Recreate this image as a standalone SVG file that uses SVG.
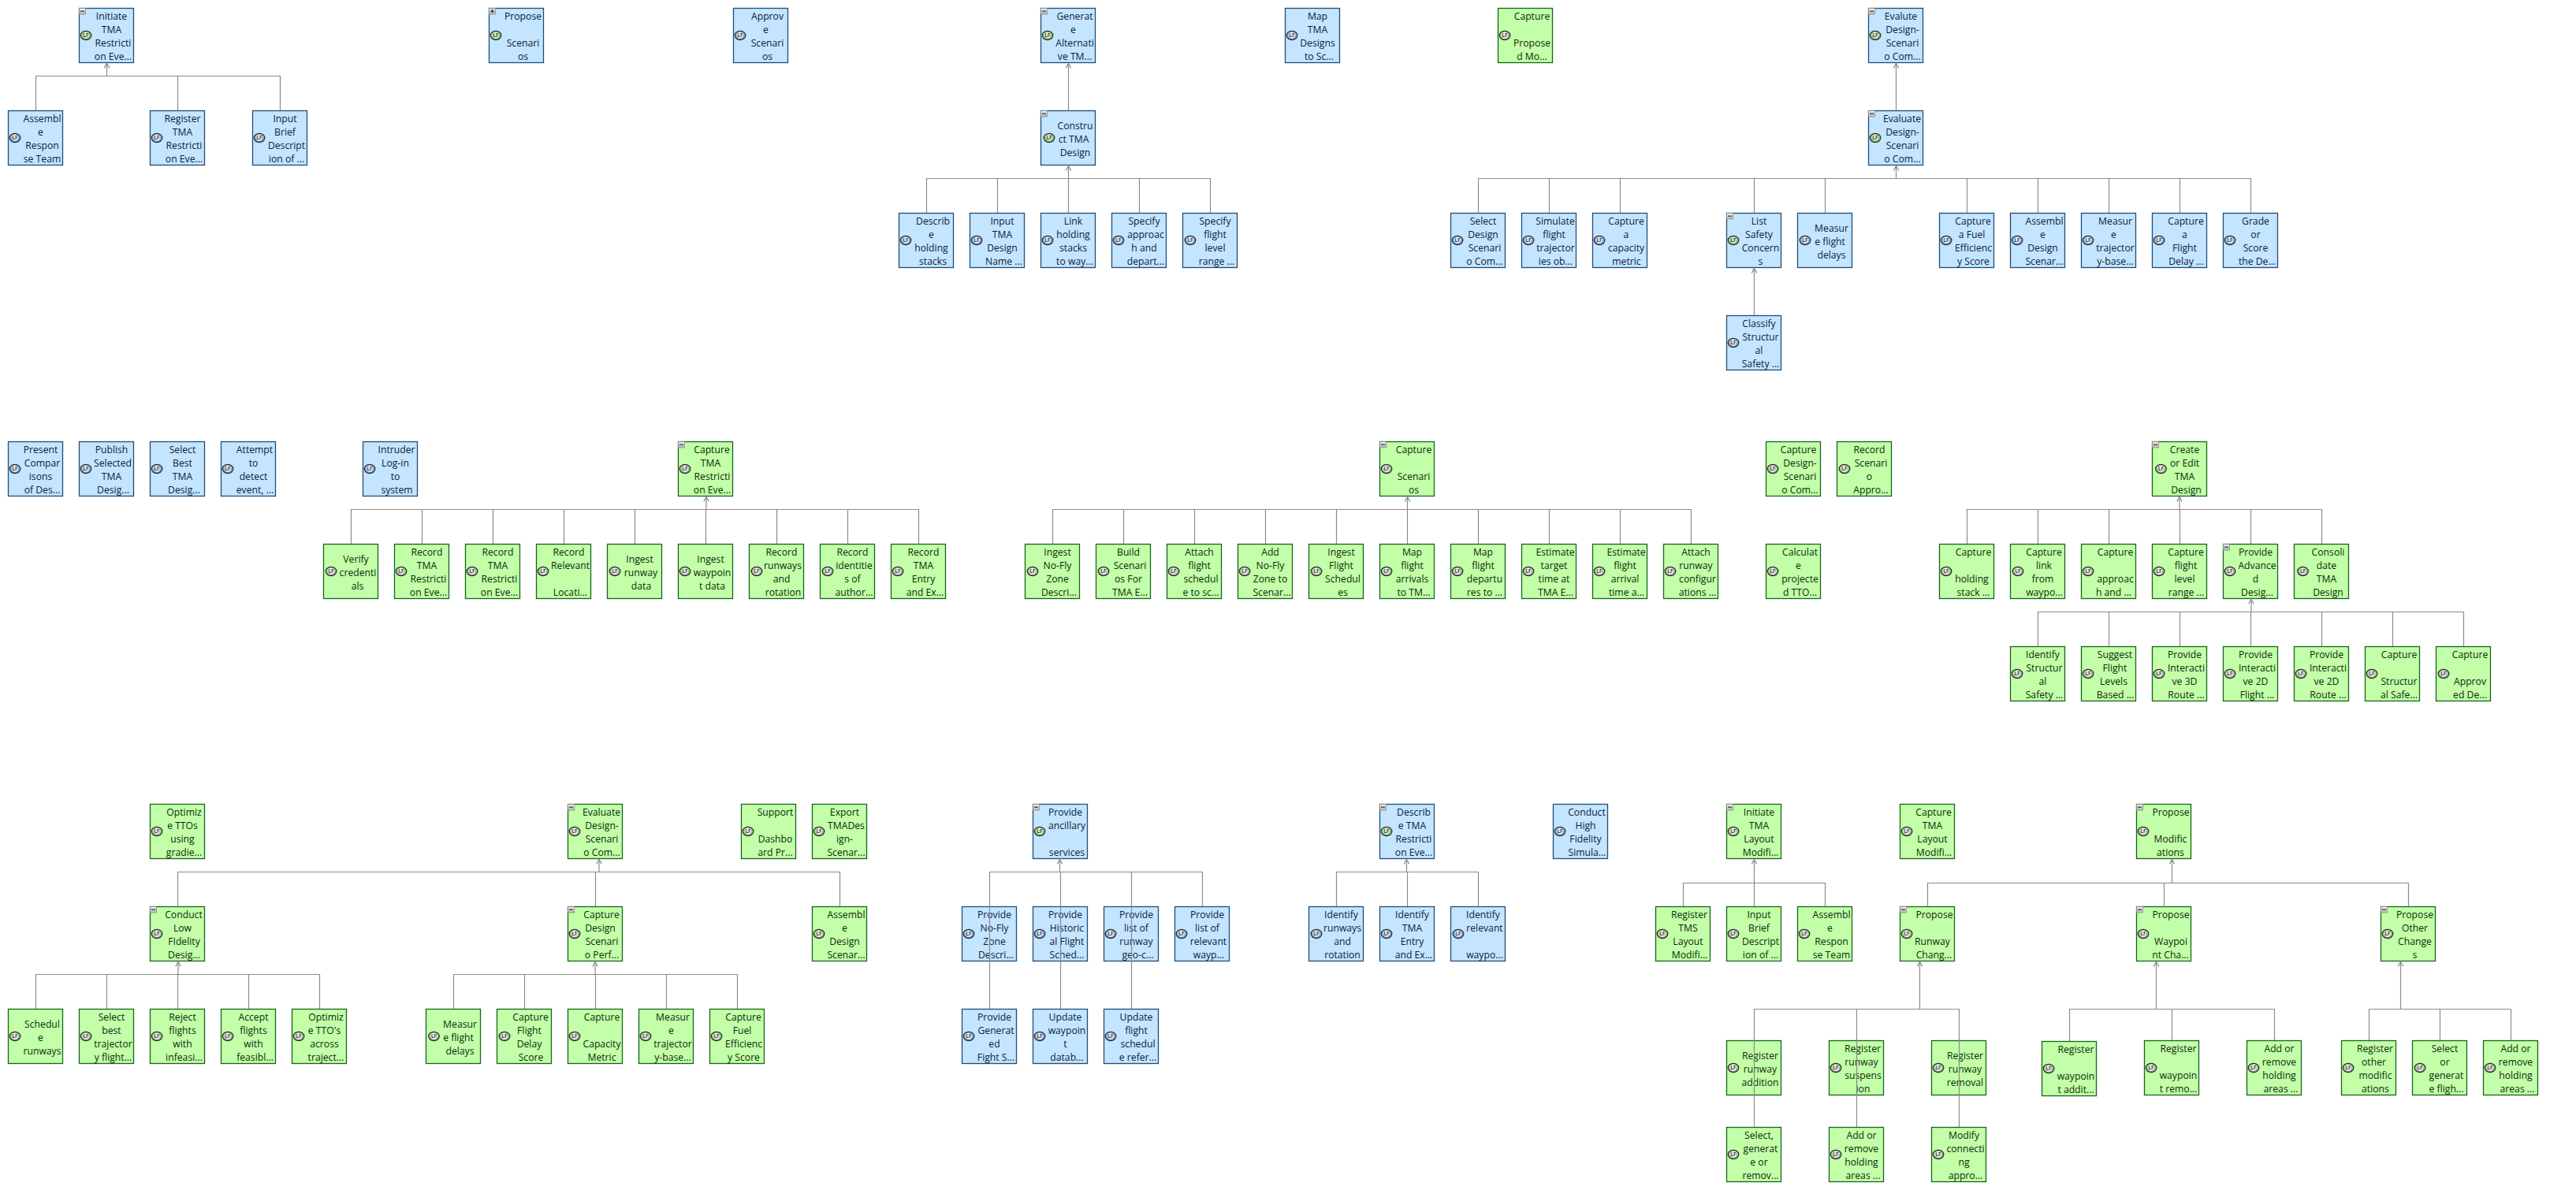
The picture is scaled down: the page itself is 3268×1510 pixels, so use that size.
<svg xmlns="http://www.w3.org/2000/svg" width="3268" height="1510" viewBox="0 0 3268 1510">
<style>
text{font-family:"Open Sans","Noto Sans","Liberation Sans",sans-serif;font-size:12.2px;text-anchor:middle;fill:#0c2238}
.g text{fill:#0b2b0b}
.b>rect{fill:#c4e5ff;stroke:#1f4e79;stroke-width:1.3}
.g>rect{fill:#c3ffa8;stroke:#17661c;stroke-width:1.3}
.c path{fill:none;stroke:#8c8c8c;stroke-width:1.2}
.a{marker-end:url(#arr)}
.lf{font-size:6.5px;font-weight:600;fill:#1c1c1c}
</style>
<defs>
<linearGradient id="gg" x1="0" y1="0" x2="0" y2="1"><stop offset="0" stop-color="#c4e4b0"/><stop offset="1" stop-color="#5f9e4a"/></linearGradient>
<linearGradient id="gb" x1="0" y1="0" x2="0" y2="1"><stop offset="0" stop-color="#c8d6e6"/><stop offset="1" stop-color="#6582a6"/></linearGradient>
<linearGradient id="gc" x1="0" y1="0" x2="0" y2="1"><stop offset="0" stop-color="#d6e2cc"/><stop offset="1" stop-color="#84967c"/></linearGradient>
<linearGradient id="gm" x1="0" y1="0" x2="0" y2="1"><stop offset="0" stop-color="#f4f4f4"/><stop offset="1" stop-color="#b4b4b4"/></linearGradient>
<marker id="arr" markerUnits="userSpaceOnUse" viewBox="0 0 10 10" markerWidth="10" markerHeight="10" refX="9.4" refY="5" orient="auto"><path d="M3,1.8L9,5L3,8.2" fill="none" stroke="#8c8c8c" stroke-width="1.2"/></marker>
<g id="ig"><ellipse rx="6.8" ry="5.6" fill="url(#gg)" stroke="#22381f" stroke-width="1.2"/><circle r="3.9" fill="#f2f8ea" fill-opacity=".75"/><text class="lf" y="2.3">LF</text></g>
<g id="ib"><ellipse rx="6.8" ry="5.6" fill="url(#gb)" stroke="#1c2c40" stroke-width="1.2"/><circle r="3.9" fill="#f4f7fb" fill-opacity=".8"/><text class="lf" y="2.3">LF</text></g>
<g id="ic"><ellipse rx="6.8" ry="5.6" fill="url(#gc)" stroke="#232c22" stroke-width="1.2"/><circle r="3.9" fill="#f6f9f0" fill-opacity=".8"/><text class="lf" y="2.3">LF</text></g>
<g id="mi"><rect x=".5" y=".5" width="8" height="7.5" fill="url(#gm)" stroke="#8a8a8a" stroke-width=".8"/><path d="M2,4.2H7" stroke="#222" stroke-width="1.1"/></g>
<g id="pl"><rect x=".5" y=".5" width="8" height="7.5" fill="url(#gm)" stroke="#8a8a8a" stroke-width=".8"/><path d="M2,4.2H7M4.5,1.8V6.6" stroke="#222" stroke-width="1.1"/></g>
</defs>
<g id="nodes">
<g id="n001" class="b" transform="translate(100 10)"><rect x=".5" y=".5" width="69" height="69"/><use href="#mi"/><use href="#ig" x="9" y="35"/><text><tspan x="41.5" y="15">Initiate</tspan><tspan x="41.5" y="32">TMA</tspan><tspan x="43.5" y="49">Restricti</tspan><tspan x="43.5" y="66">on Eve...</tspan></text></g>
<g id="n002" class="b" transform="translate(10 140)"><rect x=".5" y=".5" width="69" height="69"/><use href="#ib" x="9" y="35"/><text><tspan x="43.5" y="15">Assembl</tspan><tspan x="41.5" y="32">e</tspan><tspan x="43.5" y="49">Respon</tspan><tspan x="43.5" y="66">se Team</tspan></text></g>
<g id="n003" class="b" transform="translate(190 140)"><rect x=".5" y=".5" width="69" height="69"/><use href="#ib" x="9" y="35"/><text><tspan x="41.5" y="15">Register</tspan><tspan x="41.5" y="32">TMA</tspan><tspan x="43.5" y="49">Restricti</tspan><tspan x="43.5" y="66">on Eve...</tspan></text></g>
<g id="n004" class="b" transform="translate(320 140)"><rect x=".5" y=".5" width="69" height="69"/><use href="#ib" x="9" y="35"/><text><tspan x="41.5" y="15">Input</tspan><tspan x="41.5" y="32">Brief</tspan><tspan x="43.5" y="49">Descript</tspan><tspan x="43.5" y="66">ion of ...</tspan></text></g>
<g id="n005" class="b" transform="translate(620 10)"><rect x=".5" y=".5" width="69" height="69"/><use href="#pl"/><use href="#ig" x="9" y="35"/><text><tspan x="43.5" y="15">Propose</tspan><tspan x="43.5" y="49">Scenari</tspan><tspan x="43.5" y="66">os</tspan></text></g>
<g id="n006" class="b" transform="translate(930 10)"><rect x=".5" y=".5" width="69" height="69"/><use href="#ib" x="9" y="35"/><text><tspan x="43.5" y="15">Approv</tspan><tspan x="41.5" y="32">e</tspan><tspan x="43.5" y="49">Scenari</tspan><tspan x="43.5" y="66">os</tspan></text></g>
<g id="n007" class="b" transform="translate(1320 10)"><rect x=".5" y=".5" width="69" height="69"/><use href="#mi"/><use href="#ig" x="9" y="35"/><text><tspan x="43.5" y="15">Generat</tspan><tspan x="41.5" y="32">e</tspan><tspan x="43.5" y="49">Alternati</tspan><tspan x="43.5" y="66">ve TM...</tspan></text></g>
<g id="n008" class="b" transform="translate(1320 140)"><rect x=".5" y=".5" width="69" height="69"/><use href="#mi"/><use href="#ig" x="11" y="35"/><text><tspan x="44" y="23.5">Constru</tspan><tspan x="42" y="40.5">ct TMA</tspan><tspan x="44" y="57.5">Design</tspan></text></g>
<g id="n009" class="b" transform="translate(1140 270)"><rect x=".5" y=".5" width="69" height="69"/><use href="#ib" x="9" y="35"/><text><tspan x="43.5" y="15">Describ</tspan><tspan x="41.5" y="32">e</tspan><tspan x="41.5" y="49">holding</tspan><tspan x="43.5" y="66">stacks</tspan></text></g>
<g id="n010" class="b" transform="translate(1230 270)"><rect x=".5" y=".5" width="69" height="69"/><use href="#ib" x="9" y="35"/><text><tspan x="41.5" y="15">Input</tspan><tspan x="41.5" y="32">TMA</tspan><tspan x="41.5" y="49">Design</tspan><tspan x="43.5" y="66">Name ...</tspan></text></g>
<g id="n011" class="b" transform="translate(1320 270)"><rect x=".5" y=".5" width="69" height="69"/><use href="#ib" x="9" y="35"/><text><tspan x="41.5" y="15">Link</tspan><tspan x="41.5" y="32">holding</tspan><tspan x="41.5" y="49">stacks</tspan><tspan x="43.5" y="66">to way...</tspan></text></g>
<g id="n012" class="b" transform="translate(1410 270)"><rect x=".5" y=".5" width="69" height="69"/><use href="#ib" x="9" y="35"/><text><tspan x="41.5" y="15">Specify</tspan><tspan x="43.5" y="32">approac</tspan><tspan x="41.5" y="49">h and</tspan><tspan x="43.5" y="66">depart...</tspan></text></g>
<g id="n013" class="b" transform="translate(1500 270)"><rect x=".5" y=".5" width="69" height="69"/><use href="#ib" x="10" y="35"/><text><tspan x="41.5" y="15">Specify</tspan><tspan x="41.5" y="32">flight</tspan><tspan x="41.5" y="49">level</tspan><tspan x="43.5" y="66">range ...</tspan></text></g>
<g id="n014" class="b" transform="translate(1630 10)"><rect x=".5" y=".5" width="69" height="69"/><use href="#ib" x="9" y="35"/><text><tspan x="41.5" y="15">Map</tspan><tspan x="41.5" y="32">TMA</tspan><tspan x="41.5" y="49">Designs</tspan><tspan x="43.5" y="66">to Sc...</tspan></text></g>
<g id="n015" class="g" transform="translate(1900 10)"><rect x=".5" y=".5" width="69" height="69"/><use href="#ic" x="9" y="35"/><text><tspan x="43.5" y="15">Capture</tspan><tspan x="43.5" y="49">Propose</tspan><tspan x="43.5" y="66">d Mo...</tspan></text></g>
<g id="n016" class="b" transform="translate(2370 10)"><rect x=".5" y=".5" width="69" height="69"/><use href="#mi"/><use href="#ig" x="9" y="35"/><text><tspan x="41.5" y="15">Evalute</tspan><tspan x="43.5" y="32">Design-</tspan><tspan x="43.5" y="49">Scenari</tspan><tspan x="43.5" y="66">o Com...</tspan></text></g>
<g id="n017" class="b" transform="translate(2370 140)"><rect x=".5" y=".5" width="69" height="69"/><use href="#mi"/><use href="#ig" x="9" y="35"/><text><tspan x="43" y="15">Evaluate</tspan><tspan x="43.5" y="32">Design-</tspan><tspan x="43.5" y="49">Scenari</tspan><tspan x="43.5" y="66">o Com...</tspan></text></g>
<g id="n018" class="b" transform="translate(1840 270)"><rect x=".5" y=".5" width="69" height="69"/><use href="#ib" x="9" y="35"/><text><tspan x="41.5" y="15">Select</tspan><tspan x="41.5" y="32">Design</tspan><tspan x="43.5" y="49">Scenari</tspan><tspan x="43.5" y="66">o Com...</tspan></text></g>
<g id="n019" class="b" transform="translate(1930 270)"><rect x=".5" y=".5" width="69" height="69"/><use href="#ib" x="9" y="35"/><text><tspan x="43" y="15">Simulate</tspan><tspan x="41.5" y="32">flight</tspan><tspan x="43.5" y="49">trajector</tspan><tspan x="43.5" y="66">ies ob...</tspan></text></g>
<g id="n020" class="b" transform="translate(2020 270)"><rect x=".5" y=".5" width="69" height="69"/><use href="#ib" x="9" y="35"/><text><tspan x="43" y="15">Capture</tspan><tspan x="43" y="32">a</tspan><tspan x="43" y="49">capacity</tspan><tspan x="43.5" y="66">metric</tspan></text></g>
<g id="n021" class="b" transform="translate(2190 270)"><rect x=".5" y=".5" width="69" height="69"/><use href="#mi"/><use href="#ig" x="9" y="35"/><text><tspan x="41.5" y="15">List</tspan><tspan x="41.5" y="32">Safety</tspan><tspan x="43.5" y="49">Concern</tspan><tspan x="43.5" y="66">s</tspan></text></g>
<g id="n022" class="b" transform="translate(2280 270)"><rect x=".5" y=".5" width="69" height="69"/><use href="#ib" x="10" y="35"/><text><tspan x="43.5" y="23.5">Measur</tspan><tspan x="41.5" y="40.5">e flight</tspan><tspan x="43.5" y="57.5">delays</tspan></text></g>
<g id="n023" class="b" transform="translate(2460 270)"><rect x=".5" y=".5" width="69" height="69"/><use href="#ib" x="9" y="35"/><text><tspan x="43" y="15">Capture</tspan><tspan x="41.5" y="32">a Fuel</tspan><tspan x="43.5" y="49">Efficienc</tspan><tspan x="43.5" y="66">y Score</tspan></text></g>
<g id="n024" class="b" transform="translate(2550 270)"><rect x=".5" y=".5" width="69" height="69"/><use href="#ib" x="9" y="35"/><text><tspan x="43.5" y="15">Assembl</tspan><tspan x="41.5" y="32">e</tspan><tspan x="41.5" y="49">Design</tspan><tspan x="43.5" y="66">Scenar...</tspan></text></g>
<g id="n025" class="b" transform="translate(2640 270)"><rect x=".5" y=".5" width="69" height="69"/><use href="#ib" x="9" y="35"/><text><tspan x="43.5" y="15">Measur</tspan><tspan x="41.5" y="32">e</tspan><tspan x="43.5" y="49">trajector</tspan><tspan x="43.5" y="66">y-base...</tspan></text></g>
<g id="n026" class="b" transform="translate(2730 270)"><rect x=".5" y=".5" width="69" height="69"/><use href="#ib" x="9" y="35"/><text><tspan x="43" y="15">Capture</tspan><tspan x="41.5" y="32">a</tspan><tspan x="41.5" y="49">Flight</tspan><tspan x="43.5" y="66">Delay ...</tspan></text></g>
<g id="n027" class="b" transform="translate(2820 270)"><rect x=".5" y=".5" width="69" height="69"/><use href="#ib" x="9" y="35"/><text><tspan x="41.5" y="15">Grade</tspan><tspan x="41.5" y="32">or</tspan><tspan x="41.5" y="49">Score</tspan><tspan x="43.5" y="66">the De...</tspan></text></g>
<g id="n028" class="b" transform="translate(2190 400)"><rect x=".5" y=".5" width="69" height="69"/><use href="#ib" x="9" y="35"/><text><tspan x="41.5" y="15">Classify</tspan><tspan x="43.5" y="32">Structur</tspan><tspan x="41.5" y="49">al</tspan><tspan x="43.5" y="66">Safety ...</tspan></text></g>
<g id="n029" class="b" transform="translate(10 560)"><rect x=".5" y=".5" width="69" height="69"/><use href="#ib" x="9" y="35"/><text><tspan x="41.5" y="15">Present</tspan><tspan x="43.5" y="32">Compar</tspan><tspan x="41.5" y="49">isons</tspan><tspan x="43.5" y="66">of Des...</tspan></text></g>
<g id="n030" class="b" transform="translate(100 560)"><rect x=".5" y=".5" width="69" height="69"/><use href="#ib" x="9" y="35"/><text><tspan x="41.5" y="15">Publish</tspan><tspan x="43" y="32">Selected</tspan><tspan x="41.5" y="49">TMA</tspan><tspan x="43.5" y="66">Desig...</tspan></text></g>
<g id="n031" class="b" transform="translate(190 560)"><rect x=".5" y=".5" width="69" height="69"/><use href="#ib" x="9" y="35"/><text><tspan x="41.5" y="15">Select</tspan><tspan x="41.5" y="32">Best</tspan><tspan x="41.5" y="49">TMA</tspan><tspan x="43.5" y="66">Desig...</tspan></text></g>
<g id="n032" class="b" transform="translate(280 560)"><rect x=".5" y=".5" width="69" height="69"/><use href="#ib" x="9" y="35"/><text><tspan x="43" y="15">Attempt</tspan><tspan x="41.5" y="32">to</tspan><tspan x="41.5" y="49">detect</tspan><tspan x="43.5" y="66">event, ...</tspan></text></g>
<g id="n033" class="b" transform="translate(460 560)"><rect x=".5" y=".5" width="69" height="69"/><use href="#ib" x="9" y="35"/><text><tspan x="43" y="15">Intruder</tspan><tspan x="41.5" y="32">Log-in</tspan><tspan x="41.5" y="49">to</tspan><tspan x="43.5" y="66">system</tspan></text></g>
<g id="n034" class="g" transform="translate(860 560)"><rect x=".5" y=".5" width="69" height="69"/><use href="#mi"/><use href="#ic" x="9" y="35"/><text><tspan x="43" y="15">Capture</tspan><tspan x="41.5" y="32">TMA</tspan><tspan x="43.5" y="49">Restricti</tspan><tspan x="43.5" y="66">on Eve...</tspan></text></g>
<g id="n035" class="g" transform="translate(410 690)"><rect x=".5" y=".5" width="69" height="69"/><use href="#ic" x="10" y="35"/><text><tspan x="41.5" y="23.5">Verify</tspan><tspan x="44" y="40.5">credenti</tspan><tspan x="43.5" y="57.5">als</tspan></text></g>
<g id="n036" class="g" transform="translate(500 690)"><rect x=".5" y=".5" width="69" height="69"/><use href="#ic" x="9" y="35"/><text><tspan x="41.5" y="15">Record</tspan><tspan x="41.5" y="32">TMA</tspan><tspan x="43.5" y="49">Restricti</tspan><tspan x="43.5" y="66">on Eve...</tspan></text></g>
<g id="n037" class="g" transform="translate(590 690)"><rect x=".5" y=".5" width="69" height="69"/><use href="#ic" x="9" y="35"/><text><tspan x="41.5" y="15">Record</tspan><tspan x="41.5" y="32">TMA</tspan><tspan x="43.5" y="49">Restricti</tspan><tspan x="43.5" y="66">on Eve...</tspan></text></g>
<g id="n038" class="g" transform="translate(680 690)"><rect x=".5" y=".5" width="69" height="69"/><use href="#ic" x="9" y="35"/><text><tspan x="41.5" y="15">Record</tspan><tspan x="43.5" y="32">Relevant</tspan><tspan x="43.5" y="66">Locati...</tspan></text></g>
<g id="n039" class="g" transform="translate(770 690)"><rect x=".5" y=".5" width="69" height="69"/><use href="#ic" x="10" y="35"/><text><tspan x="41.5" y="23.5">Ingest</tspan><tspan x="43" y="40.5">runway</tspan><tspan x="43.5" y="57.5">data</tspan></text></g>
<g id="n040" class="g" transform="translate(860 690)"><rect x=".5" y=".5" width="69" height="69"/><use href="#ic" x="9" y="35"/><text><tspan x="41.5" y="23.5">Ingest</tspan><tspan x="43.5" y="40.5">waypoin</tspan><tspan x="43.5" y="57.5">t data</tspan></text></g>
<g id="n041" class="g" transform="translate(950 690)"><rect x=".5" y=".5" width="69" height="69"/><use href="#ic" x="10" y="35"/><text><tspan x="41.5" y="15">Record</tspan><tspan x="43" y="32">runways</tspan><tspan x="41.5" y="49">and</tspan><tspan x="43.5" y="66">rotation</tspan></text></g>
<g id="n042" class="g" transform="translate(1040 690)"><rect x=".5" y=".5" width="69" height="69"/><use href="#ic" x="10" y="35"/><text><tspan x="41.5" y="15">Record</tspan><tspan x="43.5" y="32">identitie</tspan><tspan x="41.5" y="49">s of</tspan><tspan x="43.5" y="66">author...</tspan></text></g>
<g id="n043" class="g" transform="translate(1130 690)"><rect x=".5" y=".5" width="69" height="69"/><use href="#ic" x="9" y="35"/><text><tspan x="41.5" y="15">Record</tspan><tspan x="41.5" y="32">TMA</tspan><tspan x="41.5" y="49">Entry</tspan><tspan x="43.5" y="66">and Ex...</tspan></text></g>
<g id="n044" class="g" transform="translate(1750 560)"><rect x=".5" y=".5" width="69" height="69"/><use href="#mi"/><use href="#ic" x="9" y="35"/><text><tspan x="43.5" y="15">Capture</tspan><tspan x="43.5" y="49">Scenari</tspan><tspan x="43.5" y="66">os</tspan></text></g>
<g id="n045" class="g" transform="translate(1300 690)"><rect x=".5" y=".5" width="69" height="69"/><use href="#ic" x="10" y="35"/><text><tspan x="41.5" y="15">Ingest</tspan><tspan x="41.5" y="32">No-Fly</tspan><tspan x="41.5" y="49">Zone</tspan><tspan x="43.5" y="66">Descri...</tspan></text></g>
<g id="n046" class="g" transform="translate(1390 690)"><rect x=".5" y=".5" width="69" height="69"/><use href="#ic" x="10" y="35"/><text><tspan x="41.5" y="15">Build</tspan><tspan x="43.5" y="32">Scenari</tspan><tspan x="41.5" y="49">os For</tspan><tspan x="43.5" y="66">TMA E...</tspan></text></g>
<g id="n047" class="g" transform="translate(1480 690)"><rect x=".5" y=".5" width="69" height="69"/><use href="#ic" x="9" y="35"/><text><tspan x="41.5" y="15">Attach</tspan><tspan x="41.5" y="32">flight</tspan><tspan x="43.5" y="49">schedul</tspan><tspan x="43.5" y="66">e to sc...</tspan></text></g>
<g id="n048" class="g" transform="translate(1570 690)"><rect x=".5" y=".5" width="69" height="69"/><use href="#ic" x="9" y="35"/><text><tspan x="41.5" y="15">Add</tspan><tspan x="41.5" y="32">No-Fly</tspan><tspan x="41.5" y="49">Zone to</tspan><tspan x="43.5" y="66">Scenar...</tspan></text></g>
<g id="n049" class="g" transform="translate(1660 690)"><rect x=".5" y=".5" width="69" height="69"/><use href="#ic" x="10" y="35"/><text><tspan x="41.5" y="15">Ingest</tspan><tspan x="41.5" y="32">Flight</tspan><tspan x="43.5" y="49">Schedul</tspan><tspan x="43.5" y="66">es</tspan></text></g>
<g id="n050" class="g" transform="translate(1750 690)"><rect x=".5" y=".5" width="69" height="69"/><use href="#ic" x="9" y="35"/><text><tspan x="41.5" y="15">Map</tspan><tspan x="41.5" y="32">flight</tspan><tspan x="41.5" y="49">arrivals</tspan><tspan x="43.5" y="66">to TM...</tspan></text></g>
<g id="n051" class="g" transform="translate(1840 690)"><rect x=".5" y=".5" width="69" height="69"/><use href="#ic" x="9" y="35"/><text><tspan x="41.5" y="15">Map</tspan><tspan x="41.5" y="32">flight</tspan><tspan x="43.5" y="49">departu</tspan><tspan x="43.5" y="66">res to ...</tspan></text></g>
<g id="n052" class="g" transform="translate(1930 690)"><rect x=".5" y=".5" width="69" height="69"/><use href="#ic" x="9" y="35"/><text><tspan x="43" y="15">Estimate</tspan><tspan x="41.5" y="32">target</tspan><tspan x="41.5" y="49">time at</tspan><tspan x="43.5" y="66">TMA E...</tspan></text></g>
<g id="n053" class="g" transform="translate(2020 690)"><rect x=".5" y=".5" width="69" height="69"/><use href="#ic" x="9" y="35"/><text><tspan x="43" y="15">Estimate</tspan><tspan x="41.5" y="32">flight</tspan><tspan x="41.5" y="49">arrival</tspan><tspan x="43.5" y="66">time a...</tspan></text></g>
<g id="n054" class="g" transform="translate(2110 690)"><rect x=".5" y=".5" width="69" height="69"/><use href="#ic" x="9" y="35"/><text><tspan x="41.5" y="15">Attach</tspan><tspan x="41.5" y="32">runway</tspan><tspan x="43.5" y="49">configur</tspan><tspan x="43.5" y="66">ations ...</tspan></text></g>
<g id="n055" class="g" transform="translate(2240 560)"><rect x=".5" y=".5" width="69" height="69"/><use href="#ic" x="9" y="35"/><text><tspan x="41.5" y="15">Capture</tspan><tspan x="43.5" y="32">Design-</tspan><tspan x="43.5" y="49">Scenari</tspan><tspan x="43.5" y="66">o Com...</tspan></text></g>
<g id="n056" class="g" transform="translate(2330 560)"><rect x=".5" y=".5" width="69" height="69"/><use href="#ic" x="10" y="35"/><text><tspan x="41.5" y="15">Record</tspan><tspan x="43.5" y="32">Scenari</tspan><tspan x="41.5" y="49">o</tspan><tspan x="43.5" y="66">Appro...</tspan></text></g>
<g id="n057" class="g" transform="translate(2240 690)"><rect x=".5" y=".5" width="69" height="69"/><use href="#ic" x="9" y="35"/><text><tspan x="43.5" y="15">Calculat</tspan><tspan x="41.5" y="32">e</tspan><tspan x="43.5" y="49">projecte</tspan><tspan x="43.5" y="66">d TTO...</tspan></text></g>
<g id="n058" class="g" transform="translate(2730 560)"><rect x=".5" y=".5" width="69" height="69"/><use href="#mi"/><use href="#ic" x="11.5" y="35"/><text><tspan x="41.5" y="15">Create</tspan><tspan x="41.5" y="32">or Edit</tspan><tspan x="41.5" y="49">TMA</tspan><tspan x="43.5" y="66">Design</tspan></text></g>
<g id="n059" class="g" transform="translate(2460 690)"><rect x=".5" y=".5" width="69" height="69"/><use href="#ic" x="9" y="35"/><text><tspan x="43.5" y="15">Capture</tspan><tspan x="41.5" y="49">holding</tspan><tspan x="43.5" y="66">stack ...</tspan></text></g>
<g id="n060" class="g" transform="translate(2550 690)"><rect x=".5" y=".5" width="69" height="69"/><use href="#ic" x="10" y="35"/><text><tspan x="43" y="15">Capture</tspan><tspan x="43" y="32">link</tspan><tspan x="41.5" y="49">from</tspan><tspan x="43.5" y="66">waypo...</tspan></text></g>
<g id="n061" class="g" transform="translate(2640 690)"><rect x=".5" y=".5" width="69" height="69"/><use href="#ic" x="9" y="35"/><text><tspan x="43.5" y="15">Capture</tspan><tspan x="43.5" y="49">approac</tspan><tspan x="41.5" y="66">h and ...</tspan></text></g>
<g id="n062" class="g" transform="translate(2730 690)"><rect x=".5" y=".5" width="69" height="69"/><use href="#ic" x="9" y="35"/><text><tspan x="43" y="15">Capture</tspan><tspan x="43" y="32">flight</tspan><tspan x="41.5" y="49">level</tspan><tspan x="43.5" y="66">range ...</tspan></text></g>
<g id="n063" class="g" transform="translate(2820 690)"><rect x=".5" y=".5" width="69" height="69"/><use href="#mi"/><use href="#ic" x="9" y="35"/><text><tspan x="41.5" y="15">Provide</tspan><tspan x="43.5" y="32">Advance</tspan><tspan x="41.5" y="49">d</tspan><tspan x="43.5" y="66">Desig...</tspan></text></g>
<g id="n064" class="g" transform="translate(2910 690)"><rect x=".5" y=".5" width="69" height="69"/><use href="#ic" x="11.5" y="35"/><text><tspan x="43.5" y="15">Consoli</tspan><tspan x="41.5" y="32">date</tspan><tspan x="41.5" y="49">TMA</tspan><tspan x="43.5" y="66">Design</tspan></text></g>
<g id="n065" class="g" transform="translate(2550 820)"><rect x=".5" y=".5" width="69" height="69"/><use href="#ic" x="9" y="35"/><text><tspan x="41.5" y="15">Identify</tspan><tspan x="43.5" y="32">Structur</tspan><tspan x="41.5" y="49">al</tspan><tspan x="43.5" y="66">Safety ...</tspan></text></g>
<g id="n066" class="g" transform="translate(2640 820)"><rect x=".5" y=".5" width="69" height="69"/><use href="#ic" x="9" y="35"/><text><tspan x="43" y="15">Suggest</tspan><tspan x="43" y="32">Flight</tspan><tspan x="41.5" y="49">Levels</tspan><tspan x="43.5" y="66">Based ...</tspan></text></g>
<g id="n067" class="g" transform="translate(2730 820)"><rect x=".5" y=".5" width="69" height="69"/><use href="#ic" x="9" y="35"/><text><tspan x="41.5" y="15">Provide</tspan><tspan x="43.5" y="32">Interacti</tspan><tspan x="41.5" y="49">ve 3D</tspan><tspan x="43.5" y="66">Route ...</tspan></text></g>
<g id="n068" class="g" transform="translate(2820 820)"><rect x=".5" y=".5" width="69" height="69"/><use href="#ic" x="9" y="35"/><text><tspan x="41.5" y="15">Provide</tspan><tspan x="43.5" y="32">Interacti</tspan><tspan x="41.5" y="49">ve 2D</tspan><tspan x="43.5" y="66">Flight ...</tspan></text></g>
<g id="n069" class="g" transform="translate(2910 820)"><rect x=".5" y=".5" width="69" height="69"/><use href="#ic" x="9" y="35"/><text><tspan x="41.5" y="15">Provide</tspan><tspan x="43.5" y="32">Interacti</tspan><tspan x="41.5" y="49">ve 2D</tspan><tspan x="43.5" y="66">Route ...</tspan></text></g>
<g id="n070" class="g" transform="translate(3000 820)"><rect x=".5" y=".5" width="69" height="69"/><use href="#ic" x="9" y="35"/><text><tspan x="43.5" y="15">Capture</tspan><tspan x="43.5" y="49">Structur</tspan><tspan x="43.5" y="66">al Safe...</tspan></text></g>
<g id="n071" class="g" transform="translate(3090 820)"><rect x=".5" y=".5" width="69" height="69"/><use href="#ic" x="10" y="35"/><text><tspan x="43.5" y="15">Capture</tspan><tspan x="43.5" y="49">Approv</tspan><tspan x="43.5" y="66">ed De...</tspan></text></g>
<g id="n072" class="g" transform="translate(190 1020)"><rect x=".5" y=".5" width="69" height="69"/><use href="#ic" x="9" y="35"/><text><tspan x="43.5" y="15">Optimiz</tspan><tspan x="41.5" y="32">e TTOs</tspan><tspan x="41.5" y="49">using</tspan><tspan x="43.5" y="66">gradie...</tspan></text></g>
<g id="n073" class="g" transform="translate(720 1020)"><rect x=".5" y=".5" width="69" height="69"/><use href="#mi"/><use href="#ic" x="9" y="35"/><text><tspan x="43" y="15">Evaluate</tspan><tspan x="43.5" y="32">Design-</tspan><tspan x="43.5" y="49">Scenari</tspan><tspan x="43.5" y="66">o Com...</tspan></text></g>
<g id="n074" class="g" transform="translate(940 1020)"><rect x=".5" y=".5" width="69" height="69"/><use href="#ic" x="9" y="35"/><text><tspan x="43.5" y="15">Support</tspan><tspan x="43.5" y="49">Dashbo</tspan><tspan x="43.5" y="66">ard Pr...</tspan></text></g>
<g id="n075" class="g" transform="translate(1030 1020)"><rect x=".5" y=".5" width="69" height="69"/><use href="#ic" x="9" y="35"/><text><tspan x="41.5" y="15">Export</tspan><tspan x="43.5" y="32">TMADes</tspan><tspan x="41.5" y="49">ign-</tspan><tspan x="43.5" y="66">Scenar...</tspan></text></g>
<g id="n076" class="g" transform="translate(190 1150)"><rect x=".5" y=".5" width="69" height="69"/><use href="#mi"/><use href="#ic" x="9" y="35"/><text><tspan x="43" y="15">Conduct</tspan><tspan x="41.5" y="32">Low</tspan><tspan x="43.5" y="49">FIdelity</tspan><tspan x="43.5" y="66">Desig...</tspan></text></g>
<g id="n077" class="g" transform="translate(720 1150)"><rect x=".5" y=".5" width="69" height="69"/><use href="#mi"/><use href="#ic" x="9" y="35"/><text><tspan x="43" y="15">Capture</tspan><tspan x="41.5" y="32">Design</tspan><tspan x="43.5" y="49">Scenari</tspan><tspan x="43.5" y="66">o Perf...</tspan></text></g>
<g id="n078" class="g" transform="translate(1030 1150)"><rect x=".5" y=".5" width="69" height="69"/><use href="#ic" x="9" y="35"/><text><tspan x="43.5" y="15">Assembl</tspan><tspan x="41.5" y="32">e</tspan><tspan x="41.5" y="49">Design</tspan><tspan x="43.5" y="66">Scenar...</tspan></text></g>
<g id="n079" class="g" transform="translate(10 1280)"><rect x=".5" y=".5" width="69" height="69"/><use href="#ic" x="9" y="35"/><text><tspan x="43.5" y="23.5">Schedul</tspan><tspan x="41.5" y="40.5">e</tspan><tspan x="43.5" y="57.5">runways</tspan></text></g>
<g id="n080" class="g" transform="translate(100 1280)"><rect x=".5" y=".5" width="69" height="69"/><use href="#ic" x="9" y="35"/><text><tspan x="41.5" y="15">Select</tspan><tspan x="41.5" y="32">best</tspan><tspan x="43.5" y="49">trajector</tspan><tspan x="43.5" y="66">y flight...</tspan></text></g>
<g id="n081" class="g" transform="translate(190 1280)"><rect x=".5" y=".5" width="69" height="69"/><use href="#ic" x="9" y="35"/><text><tspan x="41.5" y="15">Reject</tspan><tspan x="41.5" y="32">flights</tspan><tspan x="41.5" y="49">with</tspan><tspan x="43.5" y="66">infeasi...</tspan></text></g>
<g id="n082" class="g" transform="translate(280 1280)"><rect x=".5" y=".5" width="69" height="69"/><use href="#ic" x="9" y="35"/><text><tspan x="41.5" y="15">Accept</tspan><tspan x="41.5" y="32">flights</tspan><tspan x="41.5" y="49">with</tspan><tspan x="43.5" y="66">feasibl...</tspan></text></g>
<g id="n083" class="g" transform="translate(370 1280)"><rect x=".5" y=".5" width="69" height="69"/><use href="#ic" x="9" y="35"/><text><tspan x="43.5" y="15">Optimiz</tspan><tspan x="41.5" y="32">e TTO's</tspan><tspan x="41.5" y="49">across</tspan><tspan x="43.5" y="66">traject...</tspan></text></g>
<g id="n084" class="g" transform="translate(540 1280)"><rect x=".5" y=".5" width="69" height="69"/><use href="#ic" x="10.5" y="35"/><text><tspan x="43.5" y="23.5">Measur</tspan><tspan x="41.5" y="40.5">e flight</tspan><tspan x="43.5" y="57.5">delays</tspan></text></g>
<g id="n085" class="g" transform="translate(630 1280)"><rect x=".5" y=".5" width="69" height="69"/><use href="#ic" x="10" y="35"/><text><tspan x="43" y="15">Capture</tspan><tspan x="41.5" y="32">Flight</tspan><tspan x="41.5" y="49">Delay</tspan><tspan x="43.5" y="66">Score</tspan></text></g>
<g id="n086" class="g" transform="translate(720 1280)"><rect x=".5" y=".5" width="69" height="69"/><use href="#ic" x="9" y="35"/><text><tspan x="43.5" y="15">Capture</tspan><tspan x="43.5" y="49">Capacity</tspan><tspan x="43.5" y="66">Metric</tspan></text></g>
<g id="n087" class="g" transform="translate(810 1280)"><rect x=".5" y=".5" width="69" height="69"/><use href="#ic" x="9" y="35"/><text><tspan x="43.5" y="15">Measur</tspan><tspan x="41.5" y="32">e</tspan><tspan x="43.5" y="49">trajector</tspan><tspan x="43.5" y="66">y-base...</tspan></text></g>
<g id="n088" class="g" transform="translate(900 1280)"><rect x=".5" y=".5" width="69" height="69"/><use href="#ic" x="9" y="35"/><text><tspan x="43" y="15">Capture</tspan><tspan x="41.5" y="32">Fuel</tspan><tspan x="43.5" y="49">Efficienc</tspan><tspan x="43.5" y="66">y Score</tspan></text></g>
<g id="n089" class="b" transform="translate(1310 1020)"><rect x=".5" y=".5" width="69" height="69"/><use href="#mi"/><use href="#ig" x="9" y="35"/><text><tspan x="41.5" y="15">Provide</tspan><tspan x="43.5" y="32">ancillary</tspan><tspan x="43.5" y="66">services</tspan></text></g>
<g id="n090" class="b" transform="translate(1750 1020)"><rect x=".5" y=".5" width="69" height="69"/><use href="#mi"/><use href="#ig" x="9" y="35"/><text><tspan x="43.5" y="15">Describ</tspan><tspan x="41.5" y="32">e TMA</tspan><tspan x="43.5" y="49">Restricti</tspan><tspan x="43.5" y="66">on Eve...</tspan></text></g>
<g id="n091" class="b" transform="translate(1970 1020)"><rect x=".5" y=".5" width="69" height="69"/><use href="#ib" x="9" y="35"/><text><tspan x="43" y="15">Conduct</tspan><tspan x="41.5" y="32">High</tspan><tspan x="41.5" y="49">Fidelity</tspan><tspan x="43.5" y="66">Simula...</tspan></text></g>
<g id="n092" class="b" transform="translate(1220 1150)"><rect x=".5" y=".5" width="69" height="69"/><use href="#ib" x="9" y="35"/><text><tspan x="41.5" y="15">Provide</tspan><tspan x="41.5" y="32">No-Fly</tspan><tspan x="41.5" y="49">Zone</tspan><tspan x="43.5" y="66">Descri...</tspan></text></g>
<g id="n093" class="b" transform="translate(1310 1150)"><rect x=".5" y=".5" width="69" height="69"/><use href="#ib" x="9" y="35"/><text><tspan x="41.5" y="15">Provide</tspan><tspan x="43.5" y="32">Historic</tspan><tspan x="43.5" y="49">al Flight</tspan><tspan x="43.5" y="66">Sched...</tspan></text></g>
<g id="n094" class="b" transform="translate(1400 1150)"><rect x=".5" y=".5" width="69" height="69"/><use href="#ib" x="9" y="35"/><text><tspan x="41.5" y="15">Provide</tspan><tspan x="41.5" y="32">list of</tspan><tspan x="41.5" y="49">runway</tspan><tspan x="43.5" y="66">geo-c...</tspan></text></g>
<g id="n095" class="b" transform="translate(1490 1150)"><rect x=".5" y=".5" width="69" height="69"/><use href="#ib" x="9" y="35"/><text><tspan x="41.5" y="15">Provide</tspan><tspan x="41.5" y="32">list of</tspan><tspan x="43" y="49">relevant</tspan><tspan x="43.5" y="66">wayp...</tspan></text></g>
<g id="n096" class="b" transform="translate(1660 1150)"><rect x=".5" y=".5" width="69" height="69"/><use href="#ib" x="10" y="35"/><text><tspan x="41.5" y="15">Identify</tspan><tspan x="43" y="32">runways</tspan><tspan x="43" y="49">and</tspan><tspan x="43" y="66">rotation</tspan></text></g>
<g id="n097" class="b" transform="translate(1750 1150)"><rect x=".5" y=".5" width="69" height="69"/><use href="#ib" x="9" y="35"/><text><tspan x="41.5" y="15">Identify</tspan><tspan x="41.5" y="32">TMA</tspan><tspan x="41.5" y="49">Entry</tspan><tspan x="43.5" y="66">and Ex...</tspan></text></g>
<g id="n098" class="b" transform="translate(1840 1150)"><rect x=".5" y=".5" width="69" height="69"/><use href="#ib" x="10" y="35"/><text><tspan x="41.5" y="15">Identify</tspan><tspan x="43.5" y="32">relevant</tspan><tspan x="43.5" y="66">waypo...</tspan></text></g>
<g id="n099" class="b" transform="translate(1220 1280)"><rect x=".5" y=".5" width="69" height="69"/><use href="#ib" x="9" y="35"/><text><tspan x="41.5" y="15">Provide</tspan><tspan x="43.5" y="32">Generat</tspan><tspan x="41.5" y="49">ed</tspan><tspan x="43.5" y="66">Fight S...</tspan></text></g>
<g id="n100" class="b" transform="translate(1310 1280)"><rect x=".5" y=".5" width="69" height="69"/><use href="#ib" x="9" y="35"/><text><tspan x="41.5" y="15">Update</tspan><tspan x="43.5" y="32">waypoin</tspan><tspan x="41.5" y="49">t</tspan><tspan x="43.5" y="66">datab...</tspan></text></g>
<g id="n101" class="b" transform="translate(1400 1280)"><rect x=".5" y=".5" width="69" height="69"/><use href="#ib" x="9" y="35"/><text><tspan x="41.5" y="15">Update</tspan><tspan x="41.5" y="32">flight</tspan><tspan x="43.5" y="49">schedul</tspan><tspan x="43.5" y="66">e refer...</tspan></text></g>
<g id="n102" class="g" transform="translate(2190 1020)"><rect x=".5" y=".5" width="69" height="69"/><use href="#mi"/><use href="#ic" x="9" y="35"/><text><tspan x="41.5" y="15">Initiate</tspan><tspan x="41.5" y="32">TMA</tspan><tspan x="41.5" y="49">Layout</tspan><tspan x="43.5" y="66">Modifi...</tspan></text></g>
<g id="n103" class="g" transform="translate(2410 1020)"><rect x=".5" y=".5" width="69" height="69"/><use href="#ic" x="9" y="35"/><text><tspan x="43" y="15">Capture</tspan><tspan x="41.5" y="32">TMA</tspan><tspan x="41.5" y="49">Layout</tspan><tspan x="43.5" y="66">Modifi...</tspan></text></g>
<g id="n104" class="g" transform="translate(2710 1020)"><rect x=".5" y=".5" width="69" height="69"/><use href="#mi"/><use href="#ic" x="9" y="35"/><text><tspan x="44" y="15">Propose</tspan><tspan x="43.5" y="49">Modific</tspan><tspan x="43.5" y="66">ations</tspan></text></g>
<g id="n105" class="g" transform="translate(2100 1150)"><rect x=".5" y=".5" width="69" height="69"/><use href="#ic" x="9" y="35"/><text><tspan x="43" y="15">Register</tspan><tspan x="41.5" y="32">TMS</tspan><tspan x="41.5" y="49">Layout</tspan><tspan x="43.5" y="66">Modifi...</tspan></text></g>
<g id="n106" class="g" transform="translate(2190 1150)"><rect x=".5" y=".5" width="69" height="69"/><use href="#ic" x="9" y="35"/><text><tspan x="41.5" y="15">Input</tspan><tspan x="41.5" y="32">Brief</tspan><tspan x="43.5" y="49">Descript</tspan><tspan x="43.5" y="66">ion of ...</tspan></text></g>
<g id="n107" class="g" transform="translate(2280 1150)"><rect x=".5" y=".5" width="69" height="69"/><use href="#ic" x="9" y="35"/><text><tspan x="43.5" y="15">Assembl</tspan><tspan x="41.5" y="32">e</tspan><tspan x="43.5" y="49">Respon</tspan><tspan x="43.5" y="66">se Team</tspan></text></g>
<g id="n108" class="g" transform="translate(2410 1150)"><rect x=".5" y=".5" width="69" height="69"/><use href="#mi"/><use href="#ic" x="9" y="35"/><text><tspan x="44" y="15">Propose</tspan><tspan x="41.5" y="49">Runway</tspan><tspan x="43.5" y="66">Chang...</tspan></text></g>
<g id="n109" class="g" transform="translate(2710 1150)"><rect x=".5" y=".5" width="69" height="69"/><use href="#mi"/><use href="#ic" x="9" y="35"/><text><tspan x="44" y="15">Propose</tspan><tspan x="44" y="49">Waypoi</tspan><tspan x="43.5" y="66">nt Cha...</tspan></text></g>
<g id="n110" class="g" transform="translate(3020 1150)"><rect x=".5" y=".5" width="69" height="69"/><use href="#mi"/><use href="#ic" x="9" y="35"/><text><tspan x="43.5" y="15">Propose</tspan><tspan x="43.5" y="32">Other</tspan><tspan x="43.5" y="49">Change</tspan><tspan x="43.5" y="66">s</tspan></text></g>
<g id="n111" class="g" transform="translate(2190 1320)"><rect x=".5" y=".5" width="69" height="69"/><use href="#ic" x="9" y="35"/><text><tspan x="43" y="23.5">Register</tspan><tspan x="43" y="40.5">runway</tspan><tspan x="43" y="57.5">addition</tspan></text></g>
<g id="n112" class="g" transform="translate(2320 1320)"><rect x=".5" y=".5" width="69" height="69"/><use href="#ic" x="9" y="35"/><text><tspan x="43" y="15">Register</tspan><tspan x="41.5" y="32">runway</tspan><tspan x="43.5" y="49">suspens</tspan><tspan x="43.5" y="66">ion</tspan></text></g>
<g id="n113" class="g" transform="translate(2450 1320)"><rect x=".5" y=".5" width="69" height="69"/><use href="#ic" x="9" y="35"/><text><tspan x="43" y="23.5">Register</tspan><tspan x="43" y="40.5">runway</tspan><tspan x="43" y="57.5">removal</tspan></text></g>
<g id="n114" class="g" transform="translate(2590 1321)"><rect x=".5" y=".5" width="69" height="69"/><use href="#ic" x="9" y="35"/><text><tspan x="43.5" y="15">Register</tspan><tspan x="43.5" y="49">waypoin</tspan><tspan x="43.5" y="66">t addit...</tspan></text></g>
<g id="n115" class="g" transform="translate(2720 1320)"><rect x=".5" y=".5" width="69" height="69"/><use href="#ic" x="9" y="35"/><text><tspan x="43.5" y="15">Register</tspan><tspan x="43.5" y="49">waypoin</tspan><tspan x="43.5" y="66">t remo...</tspan></text></g>
<g id="n116" class="g" transform="translate(2850 1320)"><rect x=".5" y=".5" width="69" height="69"/><use href="#ic" x="9" y="35"/><text><tspan x="41.5" y="15">Add or</tspan><tspan x="41.5" y="32">remove</tspan><tspan x="41.5" y="49">holding</tspan><tspan x="43.5" y="66">areas ...</tspan></text></g>
<g id="n117" class="g" transform="translate(2970 1320)"><rect x=".5" y=".5" width="69" height="69"/><use href="#ic" x="9" y="35"/><text><tspan x="43" y="15">Register</tspan><tspan x="41.5" y="32">other</tspan><tspan x="43.5" y="49">modific</tspan><tspan x="43.5" y="66">ations</tspan></text></g>
<g id="n118" class="g" transform="translate(3060 1320)"><rect x=".5" y=".5" width="69" height="69"/><use href="#ic" x="10" y="35"/><text><tspan x="41.5" y="15">Select</tspan><tspan x="41.5" y="32">or</tspan><tspan x="43.5" y="49">generat</tspan><tspan x="43.5" y="66">e fligh...</tspan></text></g>
<g id="n119" class="g" transform="translate(3150 1320)"><rect x=".5" y=".5" width="69" height="69"/><use href="#ic" x="9" y="35"/><text><tspan x="41.5" y="15">Add or</tspan><tspan x="41.5" y="32">remove</tspan><tspan x="41.5" y="49">holding</tspan><tspan x="43.5" y="66">areas ...</tspan></text></g>
<g id="n120" class="g" transform="translate(2190 1430)"><rect x=".5" y=".5" width="69" height="69"/><use href="#ic" x="9" y="35"/><text><tspan x="41.5" y="15">Select,</tspan><tspan x="43.5" y="32">generat</tspan><tspan x="41.5" y="49">e or</tspan><tspan x="43.5" y="66">remov...</tspan></text></g>
<g id="n121" class="g" transform="translate(2320 1430)"><rect x=".5" y=".5" width="69" height="69"/><use href="#ic" x="9" y="35"/><text><tspan x="41.5" y="15">Add or</tspan><tspan x="41.5" y="32">remove</tspan><tspan x="41.5" y="49">holding</tspan><tspan x="43.5" y="66">areas ...</tspan></text></g>
<g id="n122" class="g" transform="translate(2450 1430)"><rect x=".5" y=".5" width="69" height="69"/><use href="#ic" x="9" y="35"/><text><tspan x="41.5" y="15">Modify</tspan><tspan x="43.5" y="32">connecti</tspan><tspan x="41.5" y="49">ng</tspan><tspan x="43.5" y="66">appro...</tspan></text></g>
</g>
<g id="connectors" class="c">
<path d="M45.5 140V96.5H355.5V140M225.5 96.5V140"/><path class="a" d="M135.5 96.5V80"/>
<path class="a" d="M1355.5 140V80"/>
<path d="M1175.5 270V226.5H1535.5V270M1265.5 226.5V270M1355.5 226.5V270M1445.5 226.5V270"/><path class="a" d="M1355.5 226.5V210"/>
<path class="a" d="M2405.5 140V80"/>
<path d="M1875.5 270V226.5H2855.5V270M1965.5 226.5V270M2055.5 226.5V270M2225.5 226.5V270M2315.5 226.5V270M2495.5 226.5V270M2585.5 226.5V270M2675.5 226.5V270M2765.5 226.5V270"/><path class="a" d="M2405.5 226.5V210"/>
<path class="a" d="M2225.5 400V340"/>
<path d="M445.5 690V646.5H1165.5V690M535.5 646.5V690M625.5 646.5V690M715.5 646.5V690M805.5 646.5V690M895.5 646.5V690M985.5 646.5V690M1075.5 646.5V690"/><path class="a" d="M896 646.5V630"/>
<path d="M1335.5 690V646.5H2145.5V690M1425.5 646.5V690M1515.5 646.5V690M1605.5 646.5V690M1695.5 646.5V690M1785.5 646.5V690M1875.5 646.5V690M1965.5 646.5V690M2055.5 646.5V690"/><path class="a" d="M1785.5 646.5V630"/>
<path d="M2495.5 690V646.5H2945.5V690M2585.5 646.5V690M2675.5 646.5V690M2765.5 646.5V690M2855.5 646.5V690"/><path class="a" d="M2765 646.5V630"/>
<path d="M2585.5 820V776.5H3125.5V820M2675.5 776.5V820M2765.5 776.5V820M2855.5 776.5V820M2945.5 776.5V820M3035.5 776.5V820"/><path class="a" d="M2856 776.5V760"/>
<path d="M225.5 1150V1106.5H1065.5V1150M755.5 1106.5V1150"/><path class="a" d="M760 1106.5V1090"/>
<path d="M45.5 1280V1236.5H405.5V1280M135.5 1236.5V1280M225.5 1236.5V1280M315.5 1236.5V1280"/><path class="a" d="M226 1236.5V1220"/>
<path d="M575.5 1280V1236.5H935.5V1280M665.5 1236.5V1280M755.5 1236.5V1280M845.5 1236.5V1280"/><path class="a" d="M755 1236.5V1220"/>
<path d="M1255.5 1280V1106.5H1525.5V1150M1345.5 1106.5V1280M1435.5 1106.5V1280"/><path class="a" d="M1344.5 1106.5V1090"/>
<path d="M1695.5 1150V1106.5H1875.5V1150M1785.5 1106.5V1150"/><path class="a" d="M1784.5 1106.5V1090"/>
<path d="M2135.5 1150V1120.5H2315.5V1150M2225.5 1120.5V1150"/><path class="a" d="M2225.5 1120.5V1090"/>
<path d="M2445.5 1150V1120.5H3055.5V1150M2745.5 1120.5V1150"/><path class="a" d="M2755.5 1120.5V1090"/>
<path d="M2225.5 1430V1280.5H2485.5V1430M2355.5 1280.5V1430"/><path class="a" d="M2435.5 1280.5V1220"/>
<path d="M2625.5 1321V1280.5H2885.5V1320M2755.5 1280.5V1320"/><path class="a" d="M2735.5 1280.5V1220"/>
<path d="M3005.5 1320V1280.5H3185.5V1320M3095.5 1280.5V1320"/><path class="a" d="M3045.5 1280.5V1220"/>
</g>
</svg>
